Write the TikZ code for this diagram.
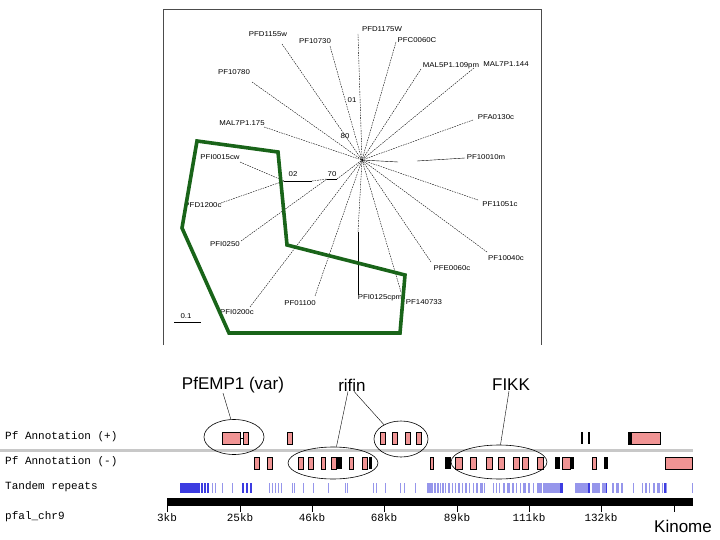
\documentclass[tikz,border=0pt]{standalone}
\usepackage{fontspec}
\setmainfont{Liberation Sans}
\setmonofont{Liberation Mono}
\usetikzlibrary{shapes.geometric}
\definecolor{treegreen}{RGB}{25,100,25}
\definecolor{genepink}{RGB}{240,148,148}
\definecolor{repdark}{RGB}{60,60,225}
\definecolor{replight}{RGB}{150,150,235}
\definecolor{sepgray}{RGB}{200,200,200}
\newcommand{\widelbl}[1]{\scalebox{1.12}[1]{#1}}
\begin{document}
\begin{tikzpicture}[x=1pt, y=-1pt,
  branch/.style={dash pattern=on 1.6pt off 1pt, line width=0.4pt},
  leaf/.style={font=\fontsize{7}{8}\selectfont, inner sep=0pt},
  head/.style={font=\fontsize{17}{19}\selectfont, inner sep=0pt},
  track/.style={font=\ttfamily\fontsize{11}{12}\selectfont, anchor=west, inner sep=0pt},
  group/.style={ellipse, draw, line width=0.6pt, inner sep=0pt},
  gene/.style={draw=black, fill=genepink, line width=1pt},
  blackgene/.style={fill=black}]
  \useasboundingbox (0,0) rectangle (720,540);

  % Tree panel
  \draw[line width=0.6pt, black!70] (163,345) -- (163,9) -- (541,9) -- (541,345);
  \coordinate (ctr) at (362,160);
  \coordinate (j02) at (284,181);
  \coordinate (j70) at (327,179);
  \foreach \tx/\ty/\lx/\ly/\txt [count=\i] in {
      282/44/268/34/PFD1155w, 330/46/315/41/PF10730, 358/34/382/29/PFD1175W,
      396/42/417/40/PFC0060C, 421/69/451/66/MAL5P1.109pm, 474/68/506/64/MAL7P1.144,
      252/82/234/72/PF10780, 264/127/242/123/MAL7P1.175, 473/120/496/117/PFA0130c,
      478/200/500/204/PF11051c, 487/252/506/258/PF10040c, 431/262/452/268/PFE0060c,
      401/292/424/302/PF140733, 315/296/300/303/PF01100, 250/307/237/312/PFI0200c} {
    \coordinate (t\i) at (\tx,\ty);
    \node[leaf] (l\i) at (\lx,\ly) {\widelbl{\txt}};
    \draw[branch] (t\i) -- (ctr);
  }
  \node[leaf] (lpfi15) at (220,157) {\widelbl{PFI0015cw}};
  \node[leaf] (lpfd12) at (203,205) {\widelbl{PFD1200c}};
  \node[leaf] (lpfi25) at (225,244) {\widelbl{PFI0250}};
  \node[leaf] (lpfi125) at (380,298) {\widelbl{PFI0125cpm}};
  \node[leaf] (lpf10) at (486,157) {\widelbl{PF10010m}};
  \draw[branch] (240,162) -- (j02);
  \draw[branch] (221,203) -- (j02);
  \draw (j02) -- (312,181);
  \draw[branch] (312,181) -- (j70);
  \draw (j70) -- (337,179);
  \draw[branch] (337,179) -- (ctr);
  \draw[branch] (241,241) -- (j70);
  \draw (ctr) -- (398,162);
  \draw (417,161) -- (465,158);
  \draw (358,232) -- (358,295);
  \draw[branch] (358,232) -- (ctr);
  \node[leaf] (n01) at (352,100) {\widelbl{01}};
  \node[leaf] (n80) at (345,136) {\widelbl{80}};
  \node[leaf] (n02) at (293,174) {\widelbl{02}};
  \node[leaf] (n70) at (332,174) {\widelbl{70}};
  % Scale bar
  \node[leaf] (sbar) at (186,316) {\widelbl{0.1}};
  \draw (174,322) -- (201,322);

  % Selected clade
  \draw[treegreen, line width=3.6pt, line join=miter]
    (197,141) -- (278,152) -- (287,245) -- (405,275) -- (400,333) -- (229,333) -- (182,228) -- cycle;

  % Track labels
  \node[track] (tplus) at (5,437) {Pf Annotation (+)};
  \node[track] (tminus) at (5,462) {Pf Annotation (-)};
  \node[track] (trep) at (5,487) {Tandem repeats};
  \node[track] (tchr) at (5,517) {pfal\_chr9};
  \draw[sepgray, line width=3pt] (0,450) -- (693,450);

  % Plus strand genes
  \draw (240,438) -- (243,438);
  \foreach \a/\b in {222/240, 243/248, 287/292, 380/385, 392/397, 405/410, 416/421, 628/660}
    \draw[gene] (\a,432) rectangle (\b,444);
  \fill[black] (628,432) rectangle (632,444);
  \foreach \a/\b in {581/583, 588/590}
    \fill[blackgene] (\a,432) rectangle (\b,444);

  % Minus strand genes
  \foreach \a/\b in {254/259, 267/272, 298/303, 308/313, 321/325, 331/336, 349/353, 362/367,
      430/433, 455/462, 470/476, 486/492, 498/504, 513/519, 522/528, 537/543,
      562/570, 592/596, 665/692}
    \draw[gene] (\a,457) rectangle (\b,469);
  \foreach \a/\b in {337/342, 369/372, 445/451, 555/560, 570/574, 604/608}
    \fill[blackgene] (\a,457) rectangle (\b,469);

  % Tandem repeats
  \foreach \a/\b in {212/213, 215/216, 222/223, 232/233, 269/270, 272/273, 275/276, 278/279,
      281/282, 292/293, 294/295, 303/304, 313/314, 328/329, 345/346, 347/348, 373/374,
      376/377, 385/386, 400/401, 404/405, 415/416, 427/433, 434/436, 437/439, 440/441,
      442/444, 445/446, 448/450, 452/453, 455/456, 458/460, 462/463, 465/467, 469/470,
      473/474, 476/478, 480/483, 484/485, 493/494, 496/497, 499/500, 503/505, 507/510,
      512/514, 516/517, 520/521, 523/526, 528/530, 533/534, 537/542, 543/560, 575/590,
      592/600, 602/607, 612/614, 616/619, 621/623, 633/634, 642/643, 645/647, 649/650,
      653/655, 657/660, 662/663, 665/667, 692/693}
    \fill[replight] (\a,483) rectangle (\b,493);
  \foreach \a/\b in {180/200, 201/203, 204/206, 207/209, 242/244, 246/248, 250/252,
      560/563, 588/590, 606/607, 664/666}
    \fill[repdark] (\a,483) rectangle (\b,493);

  % Chromosome axis
  \fill[black] (167,498) rectangle (693,506);
  \foreach \x/\t in {167/3kb, 240/25kb, 312/46kb, 384/68kb, 457/89kb, 529/111kb, 601/132kb} {
    \draw (\x,506) -- (\x,512);
    \node[font=\ttfamily\fontsize{11}{12}\selectfont, inner sep=0pt] (k\x) at (\x,518) {\t};
  }
  \draw (674,506) -- (674,512);

  % Gene family groups
  \node[group, minimum width=60pt, minimum height=35pt] (emp) at (234,437) {};
  \node[group, minimum width=90pt, minimum height=32pt] (rifbig) at (333,463) {};
  \node[group, minimum width=54pt, minimum height=36pt] (rifsmall) at (401,439) {};
  \node[group, minimum width=96pt, minimum height=34pt] (fikk) at (499,462) {};
  \node[head] (hemp) at (233,385) {PfEMP1 (var)};
  \node[head] (hrif) at (352,385) {rifin};
  \node[head] (hfikk) at (511,385) {FIKK};
  \node[head] (kinome) at (683,526) {Kinome};
  \draw ([xshift=-10pt]hemp.south) -- (emp.100);
  \draw ([xshift=-4pt]hrif.south) -- (rifbig.78);
  \draw ([xshift=2pt]hrif.south) -- (rifsmall.140);
  \draw ([xshift=-2pt]hfikk.south) -- (fikk.85);
\end{tikzpicture}
\end{document}
